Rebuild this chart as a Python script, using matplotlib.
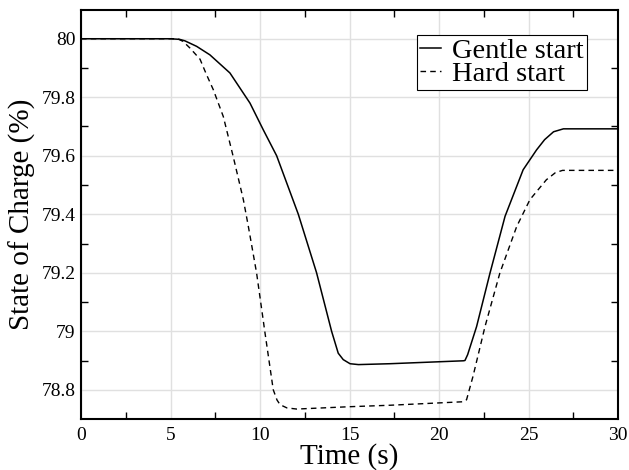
import matplotlib
matplotlib.use("Agg")
import matplotlib.pyplot as plt
import numpy as np

plt.rcParams['font.family'] = ['Liberation Serif', 'DejaVu Serif']

# Gentle start
t_gentle = [0, 4.97, 5.5, 5.8, 6.46, 7.2, 8.32, 9.44, 10.18, 10.93, 12.14, 13.16, 14.0,
            14.37, 14.65, 15.03, 15.5, 17.26, 21.36, 21.45, 21.6, 22.1, 22.85, 23.69, 24.7,
            25.45, 25.9, 26.4, 26.95, 30]
soc_gentle = [80.0, 80.0, 79.998, 79.993, 79.974, 79.945, 79.883, 79.78, 79.689, 79.6,
              79.4, 79.2, 79.0, 78.925, 78.903, 78.889, 78.886, 78.889, 78.899, 78.90,
              78.92, 79.016, 79.199, 79.393, 79.552, 79.62, 79.655, 79.682, 79.692, 79.692]

# Hard start
t_hard = [0, 5.4, 5.7, 6.09, 6.65, 7.0, 7.39, 7.95, 8.5, 9.07, 9.35, 9.81, 10.28, 10.74,
          10.95, 11.12, 11.5, 12.05, 15.0, 17.26, 21.36, 21.54, 21.9, 22.57, 23.4,
          24.34, 25.08, 26.0, 26.5, 26.9, 30]
soc_hard = [80.0, 80.0, 79.991, 79.968, 79.93, 79.879, 79.826, 79.734, 79.598, 79.45,
            79.358, 79.199, 78.994, 78.80, 78.765, 78.749, 78.738, 78.734, 78.742, 78.747,
            78.759, 78.766, 78.846, 79.016, 79.199, 79.358, 79.45, 79.518, 79.542, 79.55,
            79.55]

x_major = [0, 5, 10, 15, 20, 25, 30]
y_major = [78.8, 79, 79.2, 79.4, 79.6, 79.8, 80]
y_labels = ['78.8', '79', '79.2', '79.4', '79.6', '79.8', '80']

fig = plt.figure(figsize=(6.29, 4.70), dpi=100)
ax = fig.add_axes([81/629, 1 - 419/470, (618-81)/629, (419-9.5)/470])

ax.plot(t_gentle, soc_gentle, color='black', lw=1.1, linestyle='-', label='Gentle start')
ax.plot(t_hard, soc_hard, color='black', lw=1.0, linestyle=(0, (4, 3)), label='Hard start')

ax.set_xlim(0, 30)
ax.set_ylim(78.7, 80.1)
ax.set_xticks(x_major)
ax.set_yticks(y_major)
ax.set_yticklabels(y_labels)
ax.set_xticks(np.arange(2.5, 30, 5), minor=True)
ax.set_yticks(np.arange(78.9, 80.05, 0.2), minor=True)
ax.tick_params(which='major', length=0, labelsize=14)
ax.tick_params(axis='y', which='major', pad=4)
ax.tick_params(axis='x', which='major', pad=6)
ax.tick_params(which='minor', direction='in', length=5, width=1, top=True, right=True)
ax.grid(True, which='major', color='#e0e0e0', lw=1.0)
ax.set_axisbelow(True)
for s in ax.spines.values():
    s.set_linewidth(1.5)

ax.set_xlabel('Time (s)', fontsize=21, labelpad=-1)
ax.set_ylabel('State of Charge (%)', fontsize=21, labelpad=4)

leg = ax.legend(loc='upper right', bbox_to_anchor=(0.942, 0.938), fontsize=20.5,
                handlelength=0.75, handletextpad=0.4, borderpad=0.1, labelspacing=-0.08,
                fancybox=False, framealpha=1, edgecolor='black', borderaxespad=0)
leg.get_frame().set_linewidth(0.8)

fig.savefig('out.png', dpi=100)
